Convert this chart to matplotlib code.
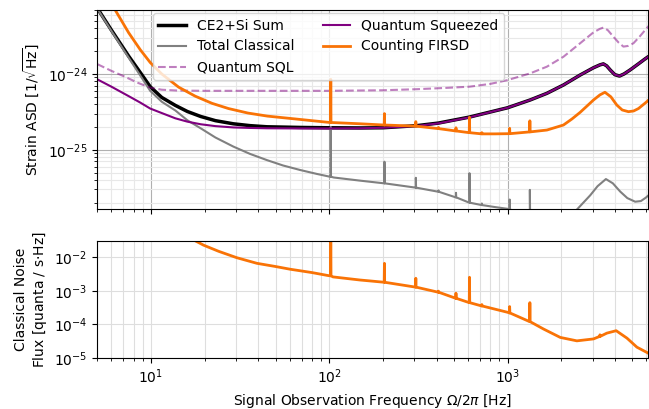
import numpy as np
import matplotlib
matplotlib.use("Agg")
import matplotlib.pyplot as plt
from matplotlib.ticker import NullLocator

# ---------------- data ----------------
# shared narrow-line frequencies [Hz]
spike_freqs = [102, 204, 306, 410, 514, 612, 718, 1028, 1335]

# CE2+Si Sum
sum_f = [5.0, 6.0, 7.5, 8.7, 9.9, 11.5, 13.7, 16, 19, 23, 29, 36, 44.7, 68.7, 100, 150,
         200, 310, 410, 612, 1000, 1340, 1664, 2060, 2557, 3037, 3300, 3450, 3600, 3770,
         4000, 4250, 4500, 4870, 5400, 5970, 6300]
sum_v = [7.4e-24, 3.8e-24, 1.72e-24, 1.05e-24, 6.8e-25, 4.9e-25, 3.85e-25, 3.2e-25,
         2.75e-25, 2.42e-25, 2.2e-25, 2.08e-25, 2.01e-25, 1.97e-25, 1.95e-25, 1.94e-25,
         1.95e-25, 2.08e-25, 2.25e-25, 2.7e-25, 3.58e-25, 4.54e-25, 5.56e-25, 7.16e-25,
         9.7e-25, 1.21e-24, 1.32e-24, 1.36e-24, 1.28e-24, 1.13e-24, 9.8e-25, 9.4e-25,
         1.0e-24, 1.13e-24, 1.35e-24, 1.61e-24, 1.75e-24]

# Total Classical (base curve + line heights)
cls_f = [5.0, 6.0, 7.5, 9.9, 11.5, 13.7, 16, 19, 23, 29, 36, 44.7, 55, 68.7, 85, 101,
         106, 150, 204, 306, 410, 514, 612, 718, 850, 1000, 1028, 1335, 1700, 2100,
         2450, 2910, 3200, 3565, 3900, 4290, 4700, 5200, 5600, 5970, 6300]
cls_v = [7.3e-24, 3.7e-24, 1.64e-24, 6.0e-25, 4.3e-25, 3.3e-25, 2.45e-25, 1.92e-25,
         1.45e-25, 1.1e-25, 8.8e-26, 7.3e-26, 6.2e-26, 5.4e-26, 4.8e-26, 4.4e-26,
         4.3e-26, 3.9e-26, 3.6e-26, 3.16e-26, 2.79e-26, 2.35e-26, 2.0e-26, 1.86e-26,
         1.75e-26, 1.66e-26, 1.63e-26, 1.3e-26, 1.1e-26, 1.2e-26, 1.62e-26, 2.5e-26,
         3.3e-26, 4.1e-26, 3.6e-26, 2.8e-26, 2.3e-26, 2.06e-26, 2.1e-26, 2.33e-26, 2.6e-26]
cls_spike_base = [4.4e-26, 3.6e-26, 3.16e-26, 2.79e-26, 2.35e-26, 2.0e-26, 1.86e-26, 1.63e-26, 1.3e-26]
cls_spike_top = [2.0e-25, 6.95e-26, 4.26e-26, 2.9e-26, 2.7e-26, 4.9e-26, 1.95e-26, 2.2e-26, 2.95e-26]

# Quantum SQL
sql_f = [5.0, 6.0, 7.0, 8.5, 9.9, 11.5, 14, 20, 50, 100, 200, 310, 450, 612, 800, 1000,
         1340, 1664, 2060, 2557, 3037, 3300, 3450, 3650, 3930, 4200, 4470, 4750, 5090,
         5500, 5970, 6300]
sql_v = [1.35e-24, 1.1e-24, 9.4e-25, 7.6e-25, 6.6e-25, 6.2e-25, 6.05e-25, 6.0e-25,
         6.0e-25, 6.0e-25, 6.1e-25, 6.3e-25, 6.55e-25, 6.8e-25, 7.4e-25, 8.3e-25,
         1.02e-24, 1.25e-24, 1.69e-24, 2.55e-24, 3.55e-24, 3.95e-24, 4.1e-24, 3.8e-24,
         3.1e-24, 2.6e-24, 2.3e-24, 2.35e-24, 2.55e-24, 3.1e-24, 3.9e-24, 4.5e-24]

# Quantum Squeezed
sqz_f = [5.0, 6.0, 7.5, 8.7, 9.9, 11.5, 13.7, 16, 19, 23, 29, 36, 44.7, 70, 100, 150,
         200, 310, 410, 612, 1000, 1340, 1664, 2060, 2557, 3037, 3300, 3450, 3600, 3770,
         4000, 4250, 4500, 4870, 5400, 5970, 6300]
sqz_v = [8.5e-25, 6.8e-25, 5.1e-25, 4.2e-25, 3.5e-25, 3.05e-25, 2.6e-25, 2.35e-25,
         2.17e-25, 2.05e-25, 1.97e-25, 1.94e-25, 1.92e-25, 1.91e-25, 1.91e-25, 1.92e-25,
         1.95e-25, 2.06e-25, 2.23e-25, 2.68e-25, 3.58e-25, 4.54e-25, 5.56e-25, 7.16e-25,
         9.7e-25, 1.21e-24, 1.32e-24, 1.36e-24, 1.28e-24, 1.13e-24, 9.8e-25, 9.4e-25,
         1.0e-24, 1.13e-24, 1.35e-24, 1.61e-24, 1.75e-24]

# Counting FIRSD (strain)
cnt_f = [6.3, 7.5, 8.7, 9.9, 11.5, 14.3, 17.7, 22, 27.2, 35, 45, 64.5, 80, 99, 150, 850,
         1664, 2060, 2300, 2557, 2800, 3037, 3300, 3520, 3800, 4100, 4400, 4770, 5100,
         5430, 5970, 6300]
cnt_v = [7.0e-24, 3.5e-24, 2.1e-24, 1.42e-24, 1.0e-24, 6.7e-25, 5.1e-25, 4.1e-25,
         3.5e-25, 3.05e-25, 2.78e-25, 2.55e-25, 2.42e-25, 2.3e-25, 2.2e-25, 1.62e-25,
         1.82e-25, 2.12e-25, 2.55e-25, 3.12e-25, 3.8e-25, 4.54e-25, 5.3e-25, 5.74e-25,
         5.0e-25, 3.9e-25, 3.35e-25, 3.18e-25, 3.25e-25, 3.5e-25, 4.2e-25, 4.7e-25]
cnt_spike_base = [2.29e-25, 2.12e-25, 2.05e-25, 1.9e-25, 1.77e-25, 1.68e-25, 1.62e-25, 1.63e-25, 1.72e-25]
cnt_spike_top = [8.5e-25, 3.0e-25, 2.35e-25, 1.97e-25, 1.95e-25, 2.68e-25, 1.68e-25, 1.92e-25, 2.41e-25]

# Classical noise flux (bottom panel)
flux_f = [17.7, 19.7, 24, 30.3, 39.3, 50, 60.4, 80, 99, 105, 149, 170, 1000, 1592, 1977,
          2450, 3037, 3607, 4070, 4680, 5320, 6000, 6300]
flux_v = [3.1e-2, 2.3e-2, 1.5e-2, 9.7e-3, 6.6e-3, 5.3e-3, 4.4e-3, 3.5e-3, 2.84e-3,
          2.6e-3, 2.1e-3, 1.97e-3, 2.3e-4, 7.3e-5, 4.1e-5, 3.24e-5, 3.7e-5, 5.5e-5,
          6.5e-5, 3.9e-5, 2.1e-5, 1.5e-5, 1.3e-5]
flux_spike_freqs = spike_freqs + [3300]
flux_spike_base = [2.8e-3, 1.8e-3, 1.29e-3, 9.1e-4, 6.0e-4, 4.45e-4, 3.55e-4, 2.2e-4, 1.21e-4, 4.4e-5]
flux_spike_top = [1.0e-1, 6.6e-3, 2.37e-3, 9.8e-4, 8.5e-4, 2.54e-3, 3.9e-4, 3.4e-4, 4.45e-4, 4.9e-5]


def with_lines(f, v, sf, sb, st, w=0.003):
    ff = list(f)
    vv = list(v)
    for fr, b, t in zip(sf, sb, st):
        ff += [fr * (1 - w), fr, fr * (1 + w)]
        vv += [b, t, b]
    order = np.argsort(ff, kind="stable")
    return np.array(ff)[order], np.array(vv)[order]


# ---------------- figure ----------------
W, H = 649, 409
fig = plt.figure(figsize=(W / 100, H / 100), dpi=100)
left = 97.3 / W
width = (647.5 - 97.3) / W
ax1 = fig.add_axes([left, 1 - 209 / H, width, 199 / H])
ax2 = fig.add_axes([left, 1 - 358 / H, width, 117 / H], sharex=ax1)

purple = "#800080"
orange = "#f97306"

ax1.loglog(sum_f, sum_v, color="black", lw=2.5, label="CE2+Si Sum")
cf, cv = with_lines(cls_f, cls_v, spike_freqs, cls_spike_base, cls_spike_top)
ax1.loglog(cf, cv, color="gray", lw=1.5, label="Total Classical")
ax1.loglog(sql_f, sql_v, color=purple, alpha=0.5, lw=1.5, ls="--", label="Quantum SQL")
ax1.loglog(sqz_f, sqz_v, color=purple, lw=1.5, label="Quantum Squeezed")
of, ov = with_lines(cnt_f, cnt_v, spike_freqs, cnt_spike_base, cnt_spike_top)
ax1.loglog(of, ov, color=orange, lw=2, label="Counting FIRSD")

ax1.set_xlim(5, 6100)
ax1.set_ylim(1.65e-26, 7.0e-24)
ax1.grid(True, which="major", color="#b0b0b0", lw=0.8)
ax1.grid(True, which="minor", color="#e8e8e8", lw=0.8)
ax1.set_axisbelow(True)
ax1.tick_params(labelbottom=False)
ax1.set_ylabel(r"Strain ASD [$1/\sqrt{\mathrm{Hz}}$]")
ax1.legend(ncol=2, loc="upper left", bbox_to_anchor=(0.101, 0.985), borderaxespad=0)

ff, fv = with_lines(flux_f, flux_v, flux_spike_freqs, flux_spike_base, flux_spike_top)
ax2.loglog(ff, fv, color=orange, lw=2)
ax2.set_ylim(1e-5, 3.05e-2)
ax2.yaxis.set_minor_locator(NullLocator())
ax2.grid(True, which="both", color="#dedede", lw=0.8)
ax2.set_axisbelow(True)
ax2.set_ylabel("Classical Noise\n" + r"Flux [quanta / s$\cdot$Hz]")
ax2.set_xlabel(r"Signal Observation Frequency $\Omega/2\pi$ [Hz]")

fig.align_ylabels([ax1, ax2])
fig.savefig("out.png", dpi=100)
